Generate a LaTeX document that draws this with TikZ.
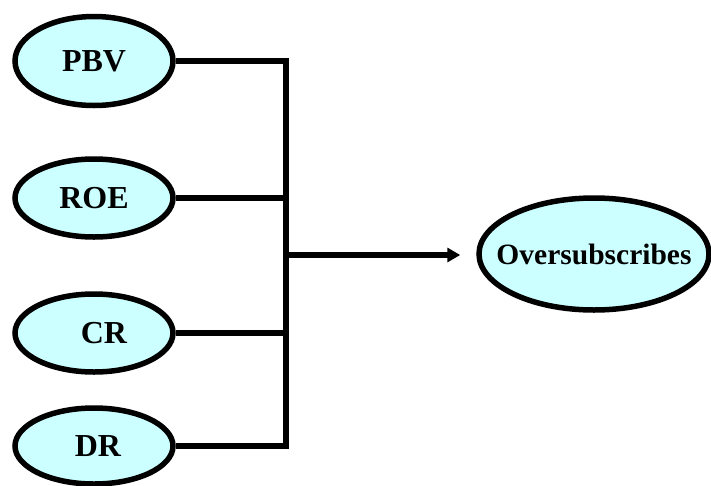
\documentclass[tikz,border=0pt]{standalone}
\usepackage{fontspec}
\setmainfont{Liberation Serif}
\usetikzlibrary{shapes.geometric, arrows.meta}
\definecolor{factorfill}{HTML}{CCFFFF}

\begin{document}
\begin{tikzpicture}[x=1pt, y=-1pt,
        factor/.style={ellipse, draw, line width=5.5pt, fill=factorfill, inner sep=0pt,
            minimum width=158pt, minimum height=78pt,
            font=\bfseries\fontsize{32}{36}\selectfont},
        link/.style={line width=5.5pt}]
    \useasboundingbox (0, 0) rectangle (711, 485);

    % input factors
    \node[factor, minimum height=89pt] (pbv) at (94, 61) {PBV};
    \node[factor] (roe) at (94, 198) {ROE};
    \node[factor] (cr) at (94, 333) {\makebox[0pt]{\hspace*{20pt}CR}};
    \node[factor, minimum height=76pt] (dr) at (94, 446) {\makebox[0pt]{\hspace*{8pt}DR}};

    % result
    \node[factor, minimum width=230pt, minimum height=112pt,
        font=\bfseries\fontsize{29.5}{33}\selectfont] (over) at (594, 254)
        {\makebox[0pt]{Oversubscribes}};

    % bus
    \coordinate (bustop) at (286, 61);
    \coordinate (busbot) at (286, 446);
    \coordinate (busmid) at (286, 255);
    \draw[link, line cap=rect] (bustop) -- (busbot);
    \foreach \n in {pbv, roe, cr, dr} {
        \draw[link] (\n.east) -- (\n.east -| bustop);
    }
    \draw[link, -{Triangle[length=13pt, width=14pt]}, shorten >=16pt]
        (busmid) -- (busmid -| over.west);
\end{tikzpicture}
\end{document}
